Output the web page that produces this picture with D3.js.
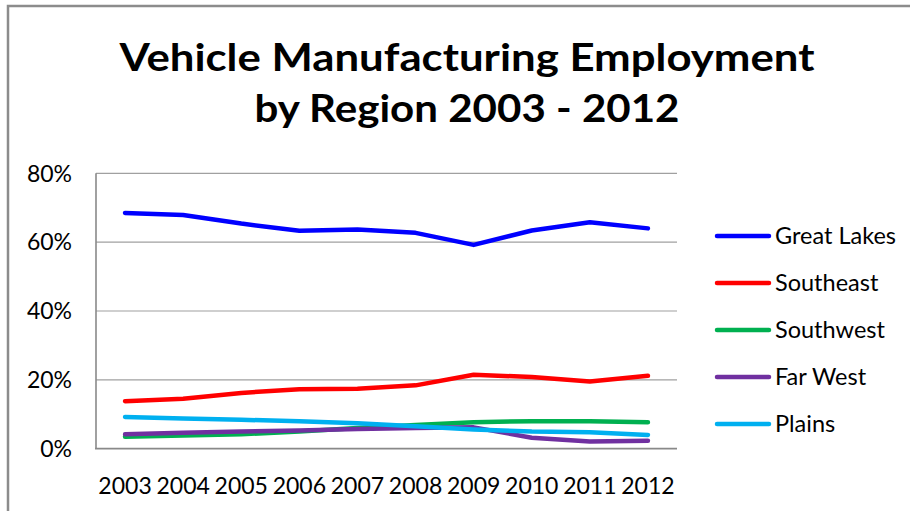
<!DOCTYPE html>
<html>
<head>
<meta charset="utf-8">
<script src="https://cdn.jsdelivr.net/npm/d3@7"></script>
<style>
  html, body { margin: 0; padding: 0; background: #fff; }
  svg { display: block; }
</style>
</head>
<body>
<svg id="chart" width="910" height="511"></svg>
<script>
// ---- data ----
const years = ["2003","2004","2005","2006","2007","2008","2009","2010","2011","2012"];
const seriesNames = ["Great Lakes","Southeast","Southwest","Far West","Plains"];
const greatLakes = [68.5, 67.9, 65.4, 63.3, 63.7, 62.7, 59.2, 63.4, 65.8, 64.0];
const southeast  = [13.8, 14.5, 16.2, 17.3, 17.4, 18.4, 21.5, 20.8, 19.5, 21.2];
const southwest  = [3.5, 3.8, 4.2, 5.0, 6.0, 6.9, 7.7, 8.0, 8.0, 7.7];
const farWest    = [4.2, 4.6, 5.0, 5.3, 5.7, 6.0, 6.2, 3.2, 2.1, 2.3];
const plains     = [9.2, 8.8, 8.4, 8.0, 7.4, 6.5, 5.6, 5.0, 4.8, 4.0];
const yTicks = [0, 20, 40, 60, 80];
const titleLines = ["Vehicle Manufacturing Employment", "by Region 2003 - 2012"];

const seriesValues = [greatLakes, southeast, southwest, farWest, plains];
const colors = ["#0000ff", "#ff0000", "#00b050", "#7030a0", "#00b0f0"];

const svg = d3.select("#chart");
const font = "Lato, 'Open Sans', sans-serif";

// outer border (only top/left visible)
svg.append("path")
  .attr("d", "M8,520 L8,6 L920,6")
  .attr("fill", "none")
  .attr("stroke", "#8c8c8c")
  .attr("stroke-width", 2.5);

// title
const titleBaselines = [71, 122];
const titleWidths = [695, 425];
titleLines.forEach((t, i) => {
  svg.append("text")
    .attr("x", 467)
    .attr("y", titleBaselines[i])
    .attr("text-anchor", "middle")
    .attr("font-family", font)
    .attr("font-weight", "bold")
    .attr("font-size", 38)
    .attr("textLength", titleWidths[i])
    .attr("lengthAdjust", "spacingAndGlyphs")
    .attr("fill", "#000")
    .text(t);
});

// scales
const x = d3.scaleBand().domain(years).range([96, 677]);
const y = d3.scaleLinear().domain([0, 80]).range([448.7, 173.3]);

// gridlines
svg.append("g")
  .selectAll("line")
  .data(yTicks.filter(d => d > 0))
  .join("line")
  .attr("x1", 96).attr("x2", 677)
  .attr("y1", d => y(d)).attr("y2", d => y(d))
  .attr("stroke", "#a0a0a0")
  .attr("stroke-width", 1.2);

// axes lines
svg.append("line")
  .attr("x1", 96).attr("x2", 96)
  .attr("y1", y(80)).attr("y2", y(0))
  .attr("stroke", "#898989").attr("stroke-width", 1.6);
svg.append("line")
  .attr("x1", 95).attr("x2", 677)
  .attr("y1", y(0)).attr("y2", y(0))
  .attr("stroke", "#898989").attr("stroke-width", 1.8);

// y tick labels
svg.append("g")
  .selectAll("text")
  .data(yTicks)
  .join("text")
  .attr("x", 72)
  .attr("y", d => y(d))
  .attr("dy", "0.36em")
  .attr("text-anchor", "end")
  .attr("font-family", font)
  .attr("font-size", 23)
  .attr("fill", "#000")
  .text(d => d + "%");

// x tick labels
svg.append("g")
  .selectAll("text")
  .data(years)
  .join("text")
  .attr("x", d => x(d) + x.bandwidth() / 2)
  .attr("y", 494)
  .attr("text-anchor", "middle")
  .attr("font-family", font)
  .attr("font-size", 23)
  .attr("fill", "#000")
  .text(d => d);

// lines
const line = d3.line()
  .x((d, i) => x(years[i]) + x.bandwidth() / 2)
  .y(d => y(d));

svg.append("g")
  .selectAll("path")
  .data(seriesValues)
  .join("path")
  .attr("d", d => line(d))
  .attr("fill", "none")
  .attr("stroke", (d, i) => colors[i])
  .attr("stroke-width", 4.5)
  .attr("stroke-linecap", "round")
  .attr("stroke-linejoin", "round");

// legend
const leg = svg.append("g");
seriesNames.forEach((name, i) => {
  const ly = 236 + i * 47;
  leg.append("line")
    .attr("x1", 717).attr("x2", 769)
    .attr("y1", ly).attr("y2", ly)
    .attr("stroke", colors[i])
    .attr("stroke-width", 4.5)
    .attr("stroke-linecap", "round");
  leg.append("text")
    .attr("x", 775)
    .attr("y", ly)
    .attr("dy", "0.36em")
    .attr("font-family", font)
    .attr("font-size", 23.5)
    .attr("fill", "#000")
    .text(name);
});
</script>
</body>
</html>
